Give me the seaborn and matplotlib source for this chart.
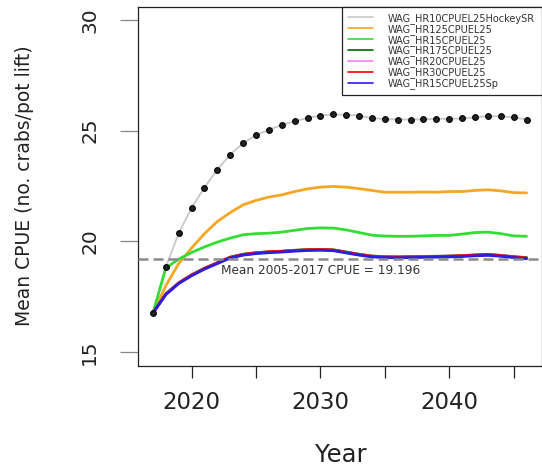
import matplotlib
matplotlib.use("Agg")
import matplotlib.pyplot as plt
from matplotlib.lines import Line2D
import seaborn as sns
import pandas as pd

# Projection years
years = list(range(2017, 2047))

# Mean CPUE trajectories for each harvest-control scenario
hr10_hockey = [16.77, 18.84, 20.37, 21.52, 22.43, 23.24, 23.92, 24.43, 24.80, 25.03,
               25.26, 25.42, 25.57, 25.68, 25.73, 25.71, 25.68, 25.55, 25.53, 25.50,
               25.50, 25.51, 25.53, 25.53, 25.55, 25.60, 25.66, 25.64, 25.60, 25.50]
hr125 = [16.77, 18.00, 19.00, 19.70, 20.35, 20.90, 21.30, 21.65, 21.85, 22.00,
         22.10, 22.25, 22.37, 22.45, 22.48, 22.45, 22.38, 22.30, 22.22, 22.22,
         22.22, 22.23, 22.22, 22.25, 22.25, 22.30, 22.33, 22.28, 22.20, 22.19]
hr15 = [16.77, 18.80, 19.20, 19.50, 19.75, 19.97, 20.15, 20.30, 20.35, 20.37,
        20.42, 20.50, 20.58, 20.61, 20.60, 20.52, 20.40, 20.28, 20.24, 20.23,
        20.23, 20.25, 20.27, 20.27, 20.33, 20.40, 20.42, 20.35, 20.25, 20.23]
hr175 = [16.77, 17.63, 18.13, 18.49, 18.79, 19.04, 19.29, 19.42, 19.49, 19.53,
         19.56, 19.60, 19.63, 19.64, 19.62, 19.52, 19.42, 19.34, 19.31, 19.30,
         19.31, 19.32, 19.33, 19.34, 19.36, 19.39, 19.41, 19.37, 19.31, 19.27]
hr20 = [16.77, 17.61, 18.11, 18.47, 18.77, 19.02, 19.27, 19.40, 19.47, 19.51,
        19.54, 19.58, 19.61, 19.62, 19.60, 19.50, 19.40, 19.32, 19.29, 19.28,
        19.29, 19.30, 19.31, 19.32, 19.34, 19.37, 19.39, 19.35, 19.29, 19.24]
hr30 = [16.77, 17.62, 18.12, 18.48, 18.78, 19.03, 19.28, 19.41, 19.48, 19.53,
        19.55, 19.59, 19.62, 19.63, 19.61, 19.51, 19.41, 19.33, 19.30, 19.29,
        19.30, 19.31, 19.32, 19.33, 19.35, 19.38, 19.41, 19.36, 19.30, 19.25]
hr15_sp = [16.77, 17.60, 18.10, 18.45, 18.75, 19.00, 19.25, 19.38, 19.45, 19.49,
           19.52, 19.56, 19.59, 19.60, 19.58, 19.48, 19.38, 19.30, 19.27, 19.26,
           19.27, 19.28, 19.29, 19.30, 19.32, 19.35, 19.37, 19.33, 19.27, 19.22]

scenarios = ["WAG_HR10CPUEL25HockeySR", "WAG_HR125CPUEL25", "WAG_HR15CPUEL25",
             "WAG_HR175CPUEL25", "WAG_HR20CPUEL25", "WAG_HR30CPUEL25",
             "WAG_HR15CPUEL25Sp"]
series = [hr10_hockey, hr125, hr15, hr175, hr20, hr30, hr15_sp]
colors = ["#c8c8c8", "#f5a623", "#33dd33", "#006400", "#ee82ee", "#ff0000", "#2a1ee0"]

ref_mean = 19.196
ref_label = "Mean 2005-2017 CPUE = 19.196"

y_ticks = [15, 20, 25, 30]
x_ticks = [2020, 2025, 2030, 2035, 2040, 2045]
x_tick_labels = ["2020", "", "2030", "", "2040", ""]

df = pd.DataFrame({
    "Year": years * len(scenarios),
    "CPUE": [v for s in series for v in s],
    "Scenario": [name for name in scenarios for _ in years],
})

sns.set_style("white")
plt.rcParams["font.family"] = ["DejaVu Sans"]

fig = plt.figure(figsize=(5.42, 4.66), dpi=100)
W, H = 542, 466
ax = fig.add_axes([138 / W, 1 - 365.5 / H, (541.5 - 138) / W, (365.5 - 6.5) / H])

palette = dict(zip(scenarios, colors))
widths = {name: (1.3 if i == 0 else 2.0) for i, name in enumerate(scenarios)}
for name in scenarios:
    sns.lineplot(data=df[df["Scenario"] == name], x="Year", y="CPUE",
                 color=palette[name], linewidth=widths[name], ax=ax,
                 legend=False, zorder=2)

# points on the hockey-stick scenario
sns.scatterplot(data=df[df["Scenario"] == scenarios[0]], x="Year", y="CPUE",
                color="#222222", edgecolor="black", s=17, linewidth=0.8,
                ax=ax, legend=False, zorder=4)

ax.axhline(ref_mean, color="#8a8a8a", linestyle=(0, (4, 2)), linewidth=1.8, zorder=3)
ax.text(2030, 18.7, ref_label, ha="center", va="center", fontsize=8.7, color="#333333")

ax.set_xlim(2015.84, 2047.16)
ax.set_ylim(14.4, 30.6)
ax.set_xticks(x_ticks)
ax.set_xticklabels(x_tick_labels, fontsize=16.5, color="#222222")
ax.set_yticks(y_ticks)
ax.set_yticklabels([str(t) for t in y_ticks], fontsize=14.5, rotation=90,
                   va="center", color="#222222")
ax.tick_params(axis="x", direction="out", length=8.6, width=0.9, color="#222222", pad=10,
               bottom=True)
ax.tick_params(axis="y", direction="out", length=13, width=0.9, color="#888888", pad=15,
               left=True)
ax.set_xlabel("")
ax.set_ylabel("")
for sp in ax.spines.values():
    sp.set_visible(True)
    sp.set_color("#222222")
    sp.set_linewidth(0.9)

fig.text(341 / W, 1 - 462 / H, "Year", ha="center", va="baseline", fontsize=17.5,
         color="#222222")
fig.text(25 / W, 1 - 186 / H, "Mean CPUE (no. crabs/pot lift)", ha="center", va="center",
         rotation=90, fontsize=13.5, color="#222222")

handles = [Line2D([0], [0], color=c, linewidth=1.2) for c in colors]
leg = ax.legend(handles, scenarios, loc="upper right", borderaxespad=0, fontsize=7.0,
                frameon=True, fancybox=False, edgecolor="#222222", framealpha=1,
                handlelength=2.6, handletextpad=1.5, labelspacing=0.0, borderpad=0.65)
leg.get_frame().set_linewidth(0.9)
for t in leg.get_texts():
    t.set_color("#333333")

fig.savefig("out.png", dpi=100)
